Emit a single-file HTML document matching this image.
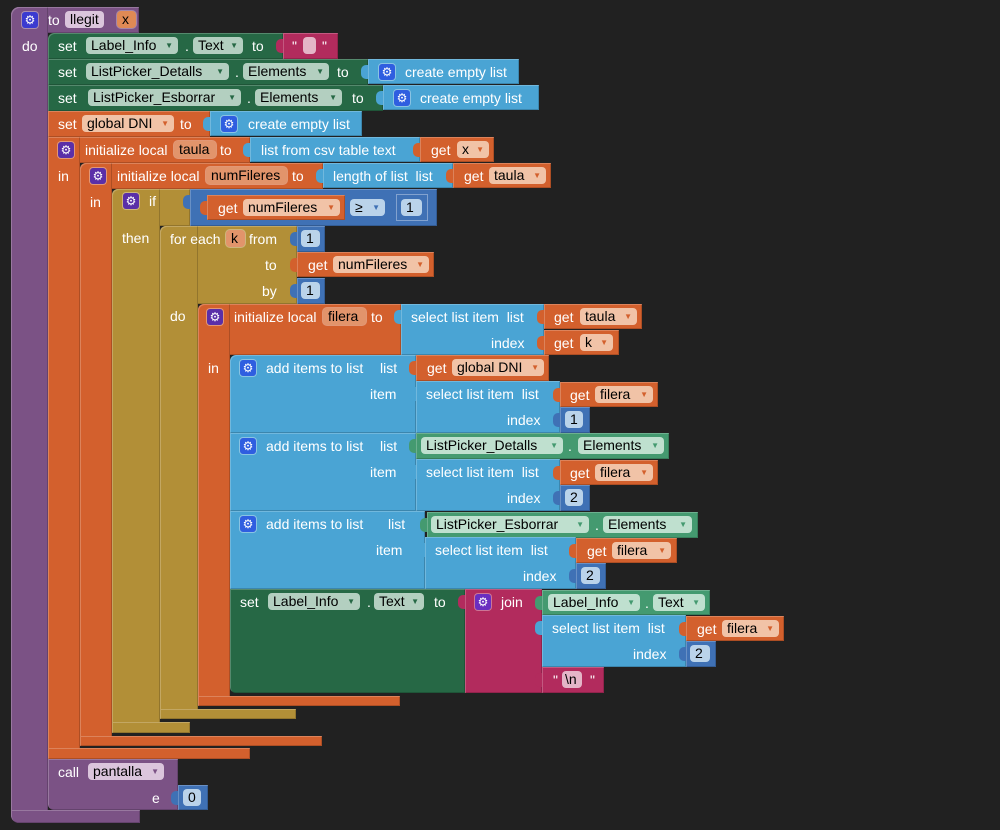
<!DOCTYPE html>
<html><head><meta charset="utf-8">
<style>
html,body{margin:0;padding:0}
body{width:1000px;height:830px;background:#212121;overflow:hidden;position:relative;font-family:"Liberation Sans",Arial,sans-serif}
.b{position:absolute;box-shadow:inset 1px 1px 0 rgba(255,255,255,.22),inset -1px -1px 0 rgba(0,0,0,.18)}
.l{position:absolute;color:#fff;font-size:14px;line-height:26px;height:26px;white-space:nowrap}
.f{position:absolute;height:17px;line-height:17px;border-radius:4px;color:#000;font-size:14px;white-space:nowrap;padding-left:5px;box-sizing:border-box}
.f i{font-style:normal;font-size:8px;position:absolute;right:5px;top:0;line-height:17px}
.g{position:absolute;width:16px;height:16px;border-radius:3px;color:#fff;font-size:12px;line-height:16px;text-align:center;font-family:"DejaVu Sans",sans-serif;box-shadow:0 0 0 1px rgba(255,255,255,.35)}
.tb{position:absolute;width:8px;height:14px;border-radius:5px 0 0 5px}
.pu{background:#7b5285}.dg{background:#266845}.or{background:#d3602d}.lb{background:#4aa4d4}
.mb{background:#3f71b5}.ol{background:#b28f37}.mg{background:#b22b5d}.gg{background:#449a70}
.fdg{background:#b3cfc0}.fdg i{color:#266845}
.fgg{background:#bfe0cf}.fgg i{color:#449a70}
.for{background:#f1c3a7}.for i{color:#d3602d}
.fvr{background:#e2946b;box-shadow:0 0 0 1px rgba(255,255,255,.35)}
.fpu{background:#dbc5dc}.fpu i{color:#7b5285}
.fnm{background:#bad3ea}.fnm i{color:#3f71b5}
.fmg{background:#e4b5c7}
.gp{background:#5a2fa8}.gb{background:#2f5ee0}.gv{background:#3b3bd0}
</style></head><body>

<!-- procedure -->
<div class="b pu" style="left:11px;top:7px;width:128px;height:26px;border-top-left-radius:8px"></div>
<div class="b pu" style="left:11px;top:7px;width:37px;height:816px;border-radius:8px 0 0 8px"></div>
<div class="b pu" style="left:11px;top:810px;width:129px;height:13px;border-bottom-left-radius:8px"></div>
<div class="g gv" style="left:22px;top:12px">⚙</div>
<div class="l" style="left:48px;top:7px">to</div>
<div class="f fpu" style="left:65px;top:11px;width:39px">llegit</div>
<div class="f" style="left:117px;top:11px;width:19px;background:#df8a55;box-shadow:0 0 0 1px rgba(255,255,255,.3)">x</div>
<div class="l" style="left:22px;top:33px">do</div>

<!-- row1 -->
<div class="b dg" style="left:48px;top:33px;width:235px;height:26px;border-top-left-radius:6px"></div>
<div class="l" style="left:58px;top:33px">set</div>
<div class="f fdg" style="left:86px;top:37px;width:92px">Label_Info<i>▼</i></div>
<div class="l" style="left:185px;top:33px">.</div>
<div class="f fdg" style="left:193px;top:37px;width:50px">Text<i>▼</i></div>
<div class="l" style="left:252px;top:33px">to</div>
<div class="tb mg" style="left:276px;top:39px"></div>
<div class="b mg" style="left:283px;top:33px;width:55px;height:26px"></div>
<div class="l" style="left:292px;top:33px">"</div>
<div class="f fmg" style="left:303px;top:37px;width:13px"></div>
<div class="l" style="left:322px;top:33px">"</div>

<!-- row2 -->
<div class="b dg" style="left:48px;top:59px;width:320px;height:26px"></div>
<div class="l" style="left:58px;top:59px">set</div>
<div class="f fdg" style="left:86px;top:63px;width:143px">ListPicker_Detalls<i>▼</i></div>
<div class="l" style="left:235px;top:59px">.</div>
<div class="f fdg" style="left:243px;top:63px;width:86px">Elements<i>▼</i></div>
<div class="l" style="left:337px;top:59px">to</div>
<div class="tb lb" style="left:361px;top:65px"></div>
<div class="b lb" style="left:368px;top:59px;width:151px;height:25px"></div>
<div class="g gb" style="left:379px;top:64px">⚙</div>
<div class="l" style="left:405px;top:59px">create empty list</div>

<!-- row3 -->
<div class="b dg" style="left:48px;top:85px;width:335px;height:26px"></div>
<div class="l" style="left:58px;top:85px">set</div>
<div class="f fdg" style="left:88px;top:89px;width:153px">ListPicker_Esborrar<i>▼</i></div>
<div class="l" style="left:247px;top:85px">.</div>
<div class="f fdg" style="left:255px;top:89px;width:87px">Elements<i>▼</i></div>
<div class="l" style="left:352px;top:85px">to</div>
<div class="tb lb" style="left:376px;top:91px"></div>
<div class="b lb" style="left:383px;top:85px;width:156px;height:25px"></div>
<div class="g gb" style="left:394px;top:90px">⚙</div>
<div class="l" style="left:420px;top:85px">create empty list</div>

<!-- row4 -->
<div class="b or" style="left:48px;top:111px;width:162px;height:26px"></div>
<div class="l" style="left:58px;top:111px">set</div>
<div class="f for" style="left:82px;top:115px;width:92px">global DNI<i>▼</i></div>
<div class="l" style="left:180px;top:111px">to</div>
<div class="tb lb" style="left:203px;top:117px"></div>
<div class="b lb" style="left:210px;top:111px;width:152px;height:25px"></div>
<div class="g gb" style="left:221px;top:116px">⚙</div>
<div class="l" style="left:248px;top:111px">create empty list</div>

<!-- taula -->
<div class="b or" style="left:48px;top:137px;width:202px;height:26px"></div>
<div class="b or" style="left:48px;top:137px;width:32px;height:622px"></div>
<div class="b or" style="left:48px;top:748px;width:202px;height:11px"></div>
<div class="g gp" style="left:58px;top:142px">⚙</div>
<div class="l" style="left:85px;top:137px">initialize local</div>
<div class="f fvr" style="left:174px;top:141px;width:42px">taula</div>
<div class="l" style="left:220px;top:137px">to</div>
<div class="tb lb" style="left:243px;top:143px"></div>
<div class="b lb" style="left:250px;top:137px;width:170px;height:25px"></div>
<div class="l" style="left:261px;top:137px">list from csv table text</div>
<div class="tb or" style="left:413px;top:143px"></div>
<div class="b or" style="left:420px;top:137px;width:74px;height:25px"></div>
<div class="l" style="left:431px;top:137px">get</div>
<div class="f for" style="left:457px;top:141px;width:32px">x<i>▼</i></div>
<div class="l" style="left:58px;top:163px">in</div>

<!-- numFileres -->
<div class="b or" style="left:80px;top:163px;width:243px;height:26px;border-top-left-radius:6px"></div>
<div class="b or" style="left:80px;top:163px;width:32px;height:583px;border-radius:6px 0 0 6px"></div>
<div class="b or" style="left:80px;top:736px;width:242px;height:10px"></div>
<div class="g gp" style="left:90px;top:168px">⚙</div>
<div class="l" style="left:117px;top:163px">initialize local</div>
<div class="f fvr" style="left:206px;top:167px;width:81px">numFileres</div>
<div class="l" style="left:292px;top:163px">to</div>
<div class="tb lb" style="left:316px;top:169px"></div>
<div class="b lb" style="left:323px;top:163px;width:130px;height:25px"></div>
<div class="l" style="left:333px;top:163px">length of list &nbsp;list</div>
<div class="tb or" style="left:446px;top:169px"></div>
<div class="b or" style="left:453px;top:163px;width:98px;height:25px"></div>
<div class="l" style="left:464px;top:163px">get</div>
<div class="f for" style="left:489px;top:167px;width:57px">taula<i>▼</i></div>
<div class="l" style="left:90px;top:189px">in</div>

<!-- if -->
<div class="b ol" style="left:112px;top:189px;width:78px;height:37px;border-top-left-radius:6px"></div>
<div class="b ol" style="left:112px;top:189px;width:48px;height:544px;border-radius:6px 0 0 6px"></div>
<div class="b ol" style="left:112px;top:722px;width:78px;height:11px"></div>
<div class="g gp" style="left:123px;top:193px">⚙</div>
<div class="l" style="left:149px;top:188px">if</div>
<div class="tb mb" style="left:183px;top:195px"></div>
<div class="b mb" style="left:190px;top:189px;width:247px;height:37px"></div>
<div class="tb or" style="left:200px;top:201px"></div>
<div class="b or" style="left:207px;top:195px;width:138px;height:25px"></div>
<div class="l" style="left:218px;top:195px">get</div>
<div class="f for" style="left:243px;top:199px;width:97px">numFileres<i>▼</i></div>
<div class="f fnm" style="left:350px;top:199px;width:35px">≥<i>▼</i></div>
<div class="tb mb" style="left:390px;top:201px"></div>
<div class="b mb" style="left:397px;top:195px;width:30px;height:25px;box-shadow:0 0 0 1px rgba(255,255,255,.35)"></div>
<div class="f fnm" style="left:401px;top:199px;width:21px">1</div>
<div class="l" style="left:122px;top:225px">then</div>

<!-- for each -->
<div class="b ol" style="left:160px;top:226px;width:137px;height:78px;border-top-left-radius:6px"></div>
<div class="b ol" style="left:160px;top:226px;width:38px;height:493px;border-radius:6px 0 0 6px"></div>
<div class="b ol" style="left:160px;top:709px;width:136px;height:10px"></div>
<div class="l" style="left:170px;top:226px">for each</div>
<div class="f fvr" style="left:226px;top:230px;width:19px">k</div>
<div class="l" style="left:249px;top:226px">from</div>
<div class="tb mb" style="left:290px;top:232px"></div>
<div class="b mb" style="left:297px;top:226px;width:28px;height:26px"></div>
<div class="f fnm" style="left:301px;top:230px;width:19px">1</div>
<div class="l" style="left:265px;top:252px">to</div>
<div class="tb or" style="left:290px;top:258px"></div>
<div class="b or" style="left:297px;top:252px;width:137px;height:25px"></div>
<div class="l" style="left:308px;top:252px">get</div>
<div class="f for" style="left:333px;top:256px;width:96px">numFileres<i>▼</i></div>
<div class="l" style="left:262px;top:278px">by</div>
<div class="tb mb" style="left:290px;top:284px"></div>
<div class="b mb" style="left:297px;top:278px;width:28px;height:26px"></div>
<div class="f fnm" style="left:301px;top:282px;width:19px">1</div>
<div class="l" style="left:170px;top:303px">do</div>

<!-- filera -->
<div class="b or" style="left:198px;top:304px;width:203px;height:51px;border-top-left-radius:6px"></div>
<div class="b or" style="left:198px;top:304px;width:32px;height:402px;border-radius:6px 0 0 6px"></div>
<div class="b or" style="left:198px;top:696px;width:202px;height:10px"></div>
<div class="g gp" style="left:207px;top:309px">⚙</div>
<div class="l" style="left:234px;top:304px">initialize local</div>
<div class="f fvr" style="left:323px;top:308px;width:43px">filera</div>
<div class="l" style="left:371px;top:304px">to</div>
<div class="tb lb" style="left:394px;top:310px"></div>
<div class="b lb" style="left:401px;top:304px;width:143px;height:51px"></div>
<div class="l" style="left:411px;top:304px">select list item &nbsp;list</div>
<div class="l" style="left:491px;top:330px">index</div>
<div class="tb or" style="left:537px;top:310px"></div>
<div class="b or" style="left:544px;top:304px;width:98px;height:25px"></div>
<div class="l" style="left:554px;top:304px">get</div>
<div class="f for" style="left:580px;top:308px;width:57px">taula<i>▼</i></div>
<div class="tb or" style="left:537px;top:336px"></div>
<div class="b or" style="left:544px;top:330px;width:75px;height:25px"></div>
<div class="l" style="left:554px;top:330px">get</div>
<div class="f for" style="left:580px;top:334px;width:33px">k<i>▼</i></div>
<div class="l" style="left:208px;top:355px">in</div>

<!-- add items 1 -->
<div class="b lb" style="left:230px;top:355px;width:186px;height:78px;border-top-left-radius:6px"></div>
<div class="g gb" style="left:240px;top:360px">⚙</div>
<div class="l" style="left:266px;top:355px">add items to list</div>
<div class="l" style="left:380px;top:355px">list</div>
<div class="tb or" style="left:409px;top:361px"></div>
<div class="b or" style="left:416px;top:355px;width:133px;height:26px"></div>
<div class="l" style="left:427px;top:355px">get</div>
<div class="f for" style="left:452px;top:359px;width:92px">global DNI<i>▼</i></div>
<div class="l" style="left:370px;top:381px">item</div>
<div class="tb lb" style="left:409px;top:387px"></div>
<div class="b lb" style="left:416px;top:381px;width:144px;height:52px"></div>
<div class="l" style="left:426px;top:381px">select list item &nbsp;list</div>
<div class="l" style="left:507px;top:407px">index</div>
<div class="tb or" style="left:553px;top:388px"></div>
<div class="b or" style="left:560px;top:382px;width:98px;height:25px"></div>
<div class="l" style="left:570px;top:382px">get</div>
<div class="f for" style="left:595px;top:386px;width:58px">filera<i>▼</i></div>
<div class="tb mb" style="left:553px;top:413px"></div>
<div class="b mb" style="left:560px;top:407px;width:30px;height:26px"></div>
<div class="f fnm" style="left:565px;top:411px;width:18px">1</div>

<!-- add items 2 -->
<div class="b lb" style="left:230px;top:433px;width:186px;height:78px"></div>
<div class="g gb" style="left:240px;top:438px">⚙</div>
<div class="l" style="left:266px;top:433px">add items to list</div>
<div class="l" style="left:380px;top:433px">list</div>
<div class="tb gg" style="left:409px;top:439px"></div>
<div class="b gg" style="left:416px;top:433px;width:253px;height:26px"></div>
<div class="f fgg" style="left:421px;top:437px;width:142px">ListPicker_Detalls<i>▼</i></div>
<div class="l" style="left:568px;top:433px">.</div>
<div class="f fgg" style="left:578px;top:437px;width:86px">Elements<i>▼</i></div>
<div class="l" style="left:370px;top:459px">item</div>
<div class="tb lb" style="left:409px;top:465px"></div>
<div class="b lb" style="left:416px;top:459px;width:144px;height:52px"></div>
<div class="l" style="left:426px;top:459px">select list item &nbsp;list</div>
<div class="l" style="left:507px;top:485px">index</div>
<div class="tb or" style="left:553px;top:466px"></div>
<div class="b or" style="left:560px;top:460px;width:98px;height:25px"></div>
<div class="l" style="left:570px;top:460px">get</div>
<div class="f for" style="left:595px;top:464px;width:58px">filera<i>▼</i></div>
<div class="tb mb" style="left:553px;top:491px"></div>
<div class="b mb" style="left:560px;top:485px;width:30px;height:26px"></div>
<div class="f fnm" style="left:565px;top:489px;width:18px">2</div>

<!-- add items 3 -->
<div class="b lb" style="left:230px;top:511px;width:195px;height:78px"></div>
<div class="g gb" style="left:240px;top:516px">⚙</div>
<div class="l" style="left:266px;top:511px">add items to list</div>
<div class="l" style="left:388px;top:511px">list</div>
<div class="tb gg" style="left:420px;top:518px"></div>
<div class="b gg" style="left:427px;top:512px;width:271px;height:26px"></div>
<div class="f fgg" style="left:431px;top:516px;width:158px">ListPicker_Esborrar<i>▼</i></div>
<div class="l" style="left:595px;top:512px">.</div>
<div class="f fgg" style="left:603px;top:516px;width:89px">Elements<i>▼</i></div>
<div class="l" style="left:376px;top:537px">item</div>
<div class="tb lb" style="left:418px;top:543px"></div>
<div class="b lb" style="left:425px;top:537px;width:151px;height:52px"></div>
<div class="l" style="left:435px;top:537px">select list item &nbsp;list</div>
<div class="l" style="left:523px;top:563px">index</div>
<div class="tb or" style="left:569px;top:544px"></div>
<div class="b or" style="left:576px;top:538px;width:101px;height:25px"></div>
<div class="l" style="left:587px;top:538px">get</div>
<div class="f for" style="left:612px;top:542px;width:59px">filera<i>▼</i></div>
<div class="tb mb" style="left:569px;top:569px"></div>
<div class="b mb" style="left:576px;top:563px;width:30px;height:26px"></div>
<div class="f fnm" style="left:581px;top:567px;width:19px">2</div>

<!-- set Label_Info -->
<div class="b dg" style="left:230px;top:589px;width:235px;height:104px;border-bottom-left-radius:6px"></div>
<div class="l" style="left:240px;top:589px">set</div>
<div class="f fdg" style="left:268px;top:593px;width:92px">Label_Info<i>▼</i></div>
<div class="l" style="left:367px;top:589px">.</div>
<div class="f fdg" style="left:374px;top:593px;width:50px">Text<i>▼</i></div>
<div class="l" style="left:434px;top:589px">to</div>
<div class="tb mg" style="left:458px;top:595px"></div>
<div class="b mg" style="left:465px;top:589px;width:77px;height:104px"></div>
<div class="g gp" style="left:475px;top:594px;background:#6a2ec0">⚙</div>
<div class="l" style="left:501px;top:589px">join</div>
<div class="tb gg" style="left:535px;top:596px"></div>
<div class="b gg" style="left:542px;top:590px;width:168px;height:25px"></div>
<div class="f fgg" style="left:548px;top:594px;width:92px">Label_Info<i>▼</i></div>
<div class="l" style="left:645px;top:590px">.</div>
<div class="f fgg" style="left:653px;top:594px;width:52px">Text<i>▼</i></div>
<div class="tb lb" style="left:535px;top:621px"></div>
<div class="b lb" style="left:542px;top:615px;width:144px;height:52px"></div>
<div class="l" style="left:552px;top:615px">select list item &nbsp;list</div>
<div class="l" style="left:633px;top:641px">index</div>
<div class="tb or" style="left:679px;top:622px"></div>
<div class="b or" style="left:686px;top:616px;width:98px;height:25px"></div>
<div class="l" style="left:697px;top:616px">get</div>
<div class="f for" style="left:722px;top:620px;width:57px">filera<i>▼</i></div>
<div class="tb mb" style="left:679px;top:647px"></div>
<div class="b mb" style="left:686px;top:641px;width:30px;height:26px"></div>
<div class="f fnm" style="left:690px;top:645px;width:20px">2</div>
<div class="tb mg" style="left:535px;top:673px"></div>
<div class="b mg" style="left:542px;top:667px;width:62px;height:26px"></div>
<div class="l" style="left:553px;top:667px">"</div>
<div class="f fmg" style="left:562px;top:671px;width:20px;padding-left:3px">\n</div>
<div class="l" style="left:590px;top:667px">"</div>

<!-- call pantalla -->
<div class="b pu" style="left:48px;top:759px;width:130px;height:51px;border-bottom-left-radius:6px"></div>
<div class="l" style="left:58px;top:759px">call</div>
<div class="f fpu" style="left:88px;top:763px;width:76px">pantalla<i>▼</i></div>
<div class="l" style="left:152px;top:785px">e</div>
<div class="tb mb" style="left:171px;top:791px"></div>
<div class="b mb" style="left:178px;top:785px;width:30px;height:25px"></div>
<div class="f fnm" style="left:183px;top:789px;width:18px">0</div>

</body></html>
